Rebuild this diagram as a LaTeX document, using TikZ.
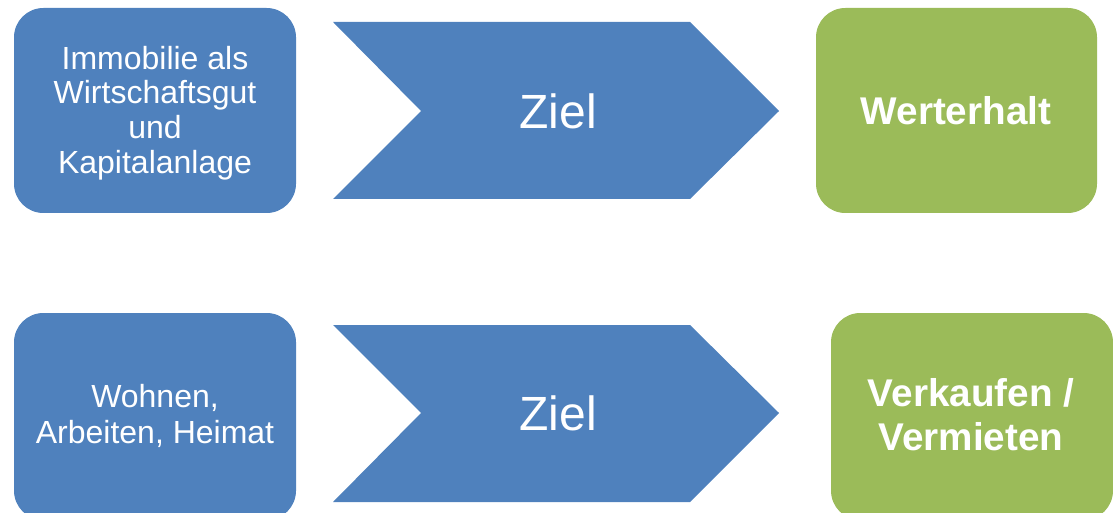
\documentclass[tikz,border=0pt]{standalone}
\usepackage{fontspec}
\setmainfont{Liberation Sans}
\definecolor{boxblue}{HTML}{4F81BD}
\definecolor{boxgreen}{HTML}{9BBB59}
\begin{document}
\begin{tikzpicture}[x=0.75pt,y=-0.75pt,
  rbox/.style={rounded corners=22pt},
  btext/.style={text=white,align=center,inner sep=0pt},
]
\useasboundingbox (0,0) rectangle (1113,513);
% top row
\fill[boxblue,rbox] (14,8) rectangle (296,213);
\node[btext,font=\fontsize{24}{26}\selectfont] (src1) at (155,113) {Immobilie als\\Wirtschaftsgut\\und\\Kapitalanlage};
\fill[boxblue] (333,22) -- (690,22) -- (779,111) -- (690,199) -- (333,199) -- (421,111) -- cycle;
\node[btext,font=\fontsize{36}{40}\selectfont] (goal1) at (558,111) {Ziel};
\fill[boxgreen,rbox] (816,8) rectangle (1097,213);
\node[btext,font=\fontsize{29}{32}\selectfont\bfseries] (res1) at (956,111) {Werterhalt};
% bottom row
\fill[boxblue,rbox] (14,313) rectangle (296,520);
\node[btext,font=\fontsize{24}{27}\selectfont] (src2) at (155,416) {Wohnen,\\Arbeiten, Heimat};
\fill[boxblue] (333,325) -- (690,325) -- (779,413) -- (690,502) -- (333,502) -- (421,413) -- cycle;
\node[btext,font=\fontsize{36}{40}\selectfont] (goal2) at (558,413) {Ziel};
\fill[boxgreen,rbox] (831,313) rectangle (1113,520);
\node[btext,font=\fontsize{29}{33}\selectfont\bfseries] (res2) at (971,415) {Verkaufen /\\Vermieten};
\end{tikzpicture}
\end{document}
